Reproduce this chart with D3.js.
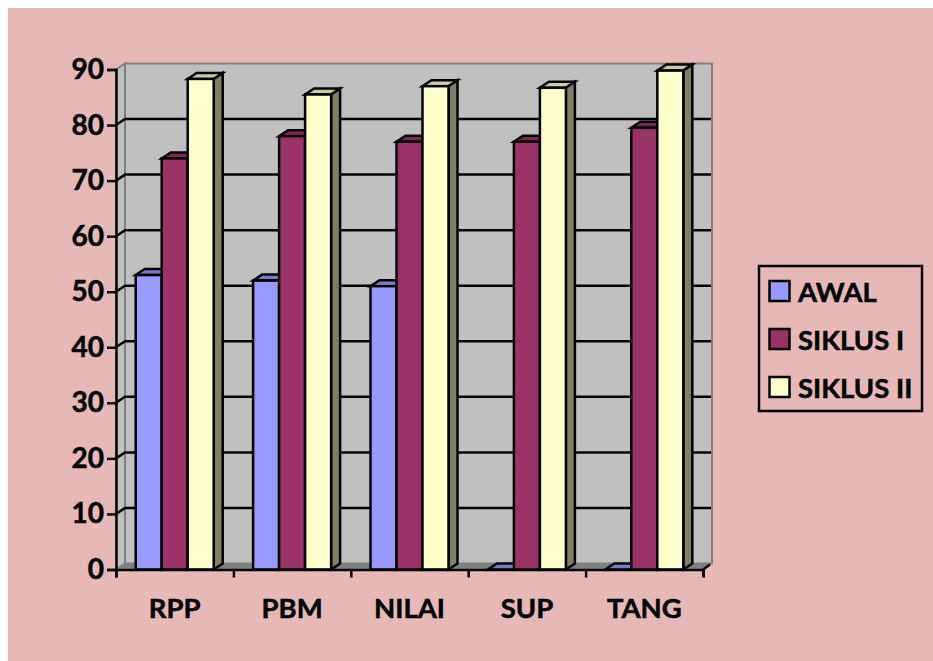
<!DOCTYPE html>
<html>
<head>
<meta charset="utf-8">
<script src="https://cdn.jsdelivr.net/npm/d3@7"></script>
<style>
  html, body { margin: 0; padding: 0; background: #fff; }
  svg { display: block; }
  text { font-family: Lato, "Open Sans", sans-serif; font-weight: 700; fill: #000; stroke: #000; stroke-width: 0.5px; }
</style>
</head>
<body>
<svg id="chart" width="933" height="661"></svg>
<script>
const categories = ["RPP", "PBM", "NILAI", "SUP", "TANG"];
const seriesNames = ["AWAL", "SIKLUS I", "SIKLUS II"];
const awal = [53, 52, 51, 0, 0];
const siklus1 = [74, 78, 77, 77, 79.5];
const siklus2 = [88.3, 85.5, 87, 86.7, 89.8];
const yTicks = [0, 10, 20, 30, 40, 50, 60, 70, 80, 90];

const front = ["#9999FF", "#993366", "#FFFFCC"];
const top_ = ["#7A7ACC", "#7A2952", "#CCCCA3"];
const side = ["#666699", "#66223F", "#808066"];
const seriesValues = [awal, siklus1, siklus2];

const svg = d3.select("#chart");
const dx = 9, dy = -6;   // depth of the 3d box
const x0 = 116, x1 = 703, y0 = 569.5, y1 = 69.5;
const barW = 26;
const lineW = 2.5;

const x = d3.scaleBand().domain(categories).range([x0, x1]).padding(0);
const y = d3.scaleLinear().domain([0, 90]).range([y0, y1]);
const poly = pts => pts.map(p => p.join(",")).join(" ");

// background
svg.append("rect").attr("x", 8).attr("y", 8).attr("width", 925).attr("height", 653).attr("fill", "#E6B8B7");

// walls
svg.append("polygon")
  .attr("points", poly([[x0, y0], [x0 + dx, y0 + dy], [x0 + dx, y1 + dy], [x0, y1]]))
  .attr("fill", "#C0C0C0").attr("stroke", "#808080").attr("stroke-width", 2);
svg.append("polygon")
  .attr("points", poly([[x0 + dx, y0 + dy], [x1 + dx, y0 + dy], [x1 + dx, y1 + dy], [x0 + dx, y1 + dy]]))
  .attr("fill", "#C0C0C0").attr("stroke", "#808080").attr("stroke-width", 2);
svg.append("polygon")
  .attr("points", poly([[x0, y0], [x1, y0], [x1 + dx, y0 + dy], [x0 + dx, y0 + dy]]))
  .attr("fill", "#808080").attr("stroke", "#808080").attr("stroke-width", 1);

// gridlines on the wall
const grid = svg.append("g").attr("fill", "none").attr("stroke", "#000").attr("stroke-width", lineW);
yTicks.filter(d => d > 0 && d < 90).forEach(d => {
  grid.append("path").attr("d", d3.line()([[x0, y(d)], [x0 + dx, y(d) + dy], [x1 + dx - 1, y(d) + dy]]));
});

// bars
categories.forEach((cat, i) => {
  const start = x(cat) + (x.bandwidth() - barW * 3) / 2;
  seriesValues.forEach((vals, s) => {
    const v = vals[i];
    const bx = start + s * barW, tx = bx + barW, ty = y(v);
    const g = svg.append("g").attr("stroke", "#000").attr("stroke-width", lineW).attr("stroke-linejoin", "miter");
    g.append("polygon").attr("fill", top_[s])
      .attr("points", poly([[bx, ty], [tx, ty], [tx + dx, ty + dy], [bx + dx, ty + dy]]));
    if (v > 0) {
      g.append("polygon").attr("fill", side[s])
        .attr("points", poly([[tx, ty], [tx + dx, ty + dy], [tx + dx, y0 + dy], [tx, y0]]));
      g.append("rect").attr("x", bx).attr("y", ty).attr("width", barW).attr("height", y0 - ty).attr("fill", front[s]);
    }
  });
});

// axes
const yAxis = d3.axisLeft(y).tickValues(yTicks).tickSize(9).tickPadding(3);
const yG = svg.append("g").attr("transform", `translate(${x0},0)`).call(yAxis);
const xAxis = d3.axisBottom(d3.scaleLinear().domain([0, 5]).range([x0, x1])).ticks(5).tickSize(8).tickFormat("");
const xG = svg.append("g").attr("transform", `translate(0,${y0})`).call(xAxis);
[yG, xG].forEach(g => {
  g.selectAll("line").attr("stroke", "#000").attr("stroke-width", lineW);
  g.selectAll(".domain").attr("stroke", "#000").attr("stroke-width", lineW);
});
// short diagonal at the front right corner of the floor
svg.append("path").attr("stroke", "#000").attr("stroke-width", lineW)
  .attr("d", d3.line()([[x1, y0], [x1 + 7, y0 - 5]]));
yG.selectAll("text").style("font-size", "28px").attr("fill", "#000");

// category labels
svg.append("g").selectAll("text").data(categories).join("text")
  .attr("x", d => x(d) + x.bandwidth() / 2)
  .attr("y", 618)
  .attr("text-anchor", "middle")
  .style("font-size", "27.5px")
  .text(d => d);

// legend
const legend = svg.append("g");
legend.append("rect").attr("x", 759).attr("y", 266).attr("width", 163).attr("height", 145)
  .attr("fill", "none").attr("stroke", "#000").attr("stroke-width", lineW);
const ly = d3.scalePoint().domain(seriesNames).range([291, 387]);
seriesNames.forEach((name, s) => {
  legend.append("rect").attr("x", 769.5).attr("y", ly(name) - 10).attr("width", 20).attr("height", 20)
    .attr("fill", front[s]).attr("stroke", "#000").attr("stroke-width", lineW);
  legend.append("text").attr("x", 798).attr("y", ly(name) + 11).style("font-size", "27.5px").text(name);
});
</script>
</body>
</html>
